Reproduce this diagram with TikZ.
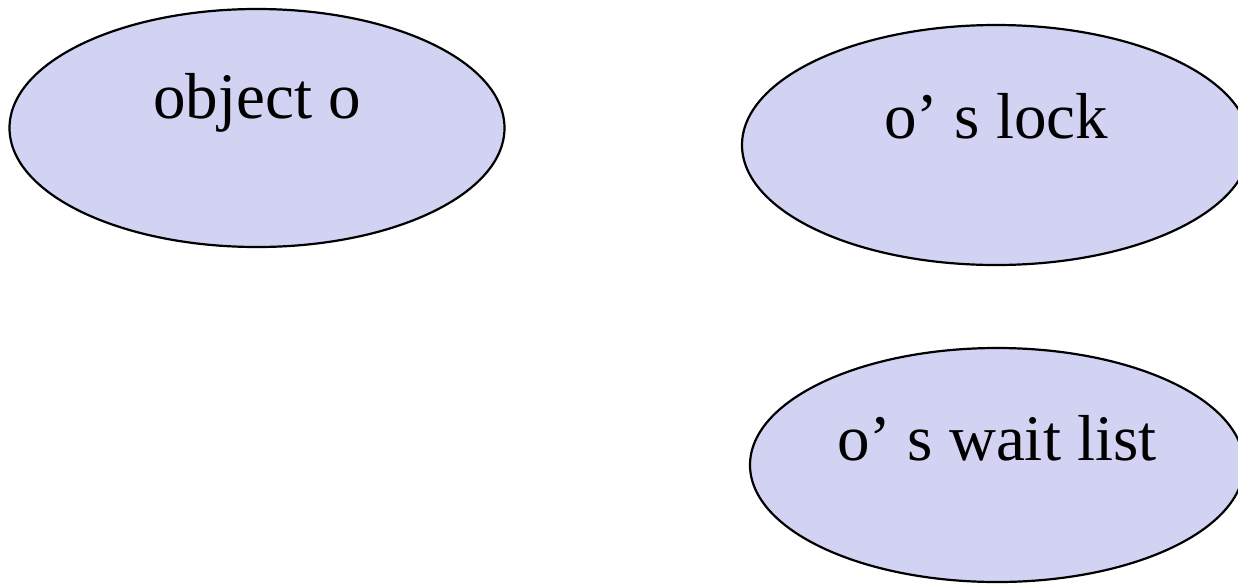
\documentclass[tikz,border=0pt]{standalone}
\usepackage{fontspec}
\setmainfont{Liberation Serif}
\usetikzlibrary{shapes.geometric}
\definecolor{lockfill}{RGB}{210,210,242}
\tikzset{
  blob/.style={draw, ellipse, fill=lockfill, line width=2.2pt, inner sep=0pt},
  txt/.style={anchor=base, inner sep=0pt, font=\fontsize{65}{78}\selectfont}
}
\begin{document}
\begin{tikzpicture}[x=1pt,y=-1pt]
\clip (0,0) rectangle (1238,584);

\node[blob, minimum width=495pt, minimum height=238pt] (obj) at (257,128) {};
\node[blob, minimum width=508pt, minimum height=240pt] (lock) at (996,145) {};
\node[blob, minimum width=494pt, minimum height=234pt] (wait) at (997,465) {};

\node[txt] (objtxt) at (257,118) {object o};
\node[txt] (locktxt) at (996,138) {o’ s lock};
\node[txt] (waittxt) at (997,460) {o’ s wait list};
\end{tikzpicture}
\end{document}
